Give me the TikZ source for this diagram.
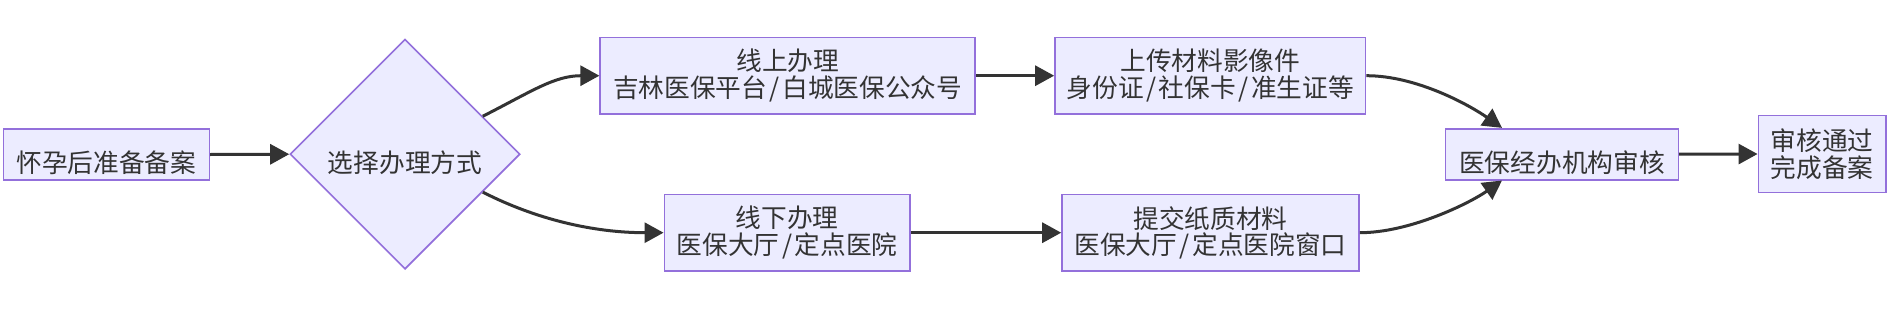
\documentclass[tikz,border=0pt]{standalone}
\usepackage{fontspec}
\newfontfamily\cjk{Noto Sans CJK SC}
\usetikzlibrary{arrows.meta,shapes.geometric}
\definecolor{nodefill}{HTML}{ECECFF}
\definecolor{nodeborder}{HTML}{9370DB}
\definecolor{ink}{HTML}{333333}
\newcommand{\slsep}{\kern2.5pt/\kern2.5pt}
\tikzset{
  boxbase/.style={draw=nodeborder, fill=nodefill, line width=1.6pt, text=ink,
    font={\cjk\fontsize{25.7pt}{26.6pt}\selectfont}, align=center, inner sep=0pt},
  box/.style={boxbase, rectangle, minimum height=76.7pt},
  onebox/.style={boxbase, rectangle, minimum height=51pt, text height=35.6pt, text depth=0pt},
  decision/.style={boxbase, diamond, aspect=1, minimum width=230pt, minimum height=230pt,
    text height=35.6pt, text depth=0pt},
  flow/.style={draw=ink, line width=3pt, -{Triangle[length=19pt,width=20pt]}},
}
\begin{document}
\begin{tikzpicture}[x=1pt,y=1pt]
\useasboundingbox (0,0) rectangle (1895,-324);
\node[onebox, minimum width=206pt] (a) at (106.3,-154.5) {怀孕后准备备案};
\node[decision] (b) at (405,-154.2) {选择办理方式};
\node[box, minimum width=375pt] (c) at (787.7,-75.7) {线上办理\\吉林医保平台\slsep 白城医保公众号};
\node[box, minimum width=245.7pt] (d) at (787.2,-232.7) {线下办理\\医保大厅\slsep 定点医院};
\node[box, minimum width=310.7pt] (e) at (1210.3,-75.7) {上传材料影像件\\身份证\slsep 社保卡\slsep 准生证等};
\node[box, minimum width=297pt] (f) at (1210.5,-232.7) {提交纸质材料\\医保大厅\slsep 定点医院窗口};
\node[onebox, minimum width=232.7pt] (g) at (1562,-154.2) {医保经办机构审核};
\node[box, minimum width=127.7pt] (h) at (1822.2,-154) {审核通过\\完成备案};
\draw[flow] (a.east) -- (b.west);
\draw[flow] (b.26) .. controls +(27:55) and +(-45,0) .. (c.west);
\draw[flow] (b.-26) .. controls +(-27:60) and +(-70,0) .. (d.west);
\draw[flow] (c.east) -- (e.west);
\draw[flow] (d.east) -- (f.west);
\draw[flow] (e.east) .. controls +(50,0) and +(145:40) .. ([xshift=-60pt]g.north);
\draw[flow] (f.east) .. controls +(50,0) and +(215:40) .. ([xshift=-60pt]g.south);
\draw[flow] (g.east) -- (h.west);
\end{tikzpicture}
\end{document}
